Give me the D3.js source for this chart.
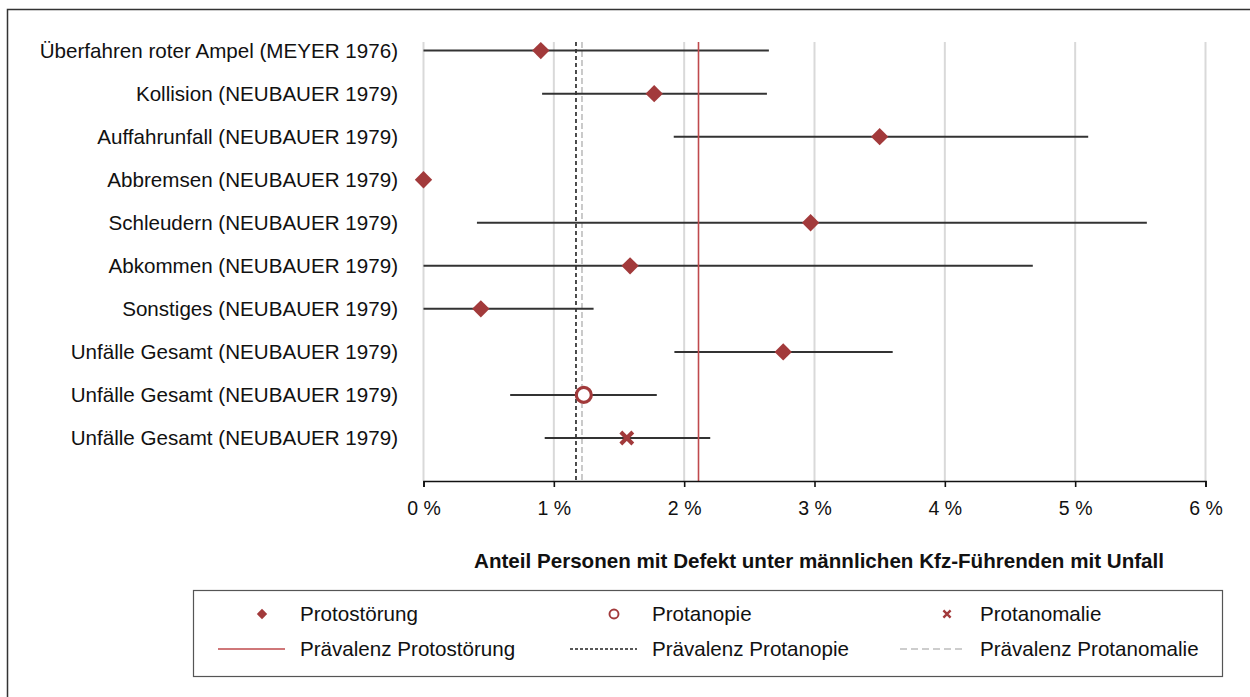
<!DOCTYPE html>
<html>
<head>
<meta charset="utf-8">
<script src="https://cdn.jsdelivr.net/npm/d3@7"></script>
<style>
  body { margin: 0; background: #fff; }
  svg { font-family: "Liberation Sans", Arial, sans-serif; }
</style>
</head>
<body>
<div id="chart"></div>
<script>
const categories = [
  "Überfahren roter Ampel (MEYER 1976)",
  "Kollision (NEUBAUER 1979)",
  "Auffahrunfall (NEUBAUER 1979)",
  "Abbremsen (NEUBAUER 1979)",
  "Schleudern (NEUBAUER 1979)",
  "Abkommen (NEUBAUER 1979)",
  "Sonstiges (NEUBAUER 1979)",
  "Unfälle Gesamt (NEUBAUER 1979)",
  "Unfälle Gesamt (NEUBAUER 1979)",
  "Unfälle Gesamt (NEUBAUER 1979)"
];
// point estimate, lower and upper bound in percent
const values = [0.90, 1.77, 3.50, 0.00, 2.97, 1.585, 0.44, 2.76, 1.23, 1.56];
const lower  = [0.00, 0.91, 1.92, null, 0.41, 0.00, 0.00, 1.925, 0.665, 0.93];
const upper  = [2.65, 2.635, 5.10, null, 5.55, 4.675, 1.305, 3.60, 1.79, 2.20];
const markerType = ["diamond", "diamond", "diamond", "diamond", "diamond", "diamond", "diamond", "diamond", "circle", "cross"];
const prevalence = { proto: 2.11, protanopie: 1.17, protanomalie: 1.216 };
const xTicks = [0, 1, 2, 3, 4, 5, 6];

const width = 1250, height = 697;
const markColor = "#a23a3b";
const fs = 20.6;

const svg = d3.select("#chart").append("svg")
    .attr("width", width)
    .attr("height", height);

// outer frame
svg.append("rect")
    .attr("x", 7.5).attr("y", 9.5)
    .attr("width", 1260).attr("height", 700)
    .attr("fill", "none")
    .attr("stroke", "#333")
    .attr("stroke-width", 1.5);

const x = d3.scaleLinear().domain([0, 6]).range([423.5, 1205.5]);
const y = d3.scaleLinear().domain([0, 10.2]).range([481, 42]);
const rowY = i => y(categories.length - i);

// gridlines
svg.append("g")
  .selectAll("line")
  .data(xTicks)
  .join("line")
    .attr("x1", d => x(d)).attr("x2", d => x(d))
    .attr("y1", y(10.2)).attr("y2", y(0))
    .attr("stroke", "#d9d9d9")
    .attr("stroke-width", 2);

// prevalence lines
svg.append("line")
    .attr("x1", x(prevalence.protanopie)).attr("x2", x(prevalence.protanopie))
    .attr("y1", y(10.2)).attr("y2", y(0))
    .attr("stroke", "#222").attr("stroke-width", 1.6)
    .attr("stroke-dasharray", "4,3");
svg.append("line")
    .attr("x1", x(prevalence.protanomalie)).attr("x2", x(prevalence.protanomalie))
    .attr("y1", y(10.2)).attr("y2", y(0))
    .attr("stroke", "#bdbdbd").attr("stroke-width", 1.6)
    .attr("stroke-dasharray", "6,3");

// error bars
svg.append("g")
  .selectAll("line")
  .data(d3.range(categories.length).filter(i => lower[i] !== null))
  .join("line")
    .attr("x1", i => x(lower[i])).attr("x2", i => x(upper[i]))
    .attr("y1", i => rowY(i)).attr("y2", i => rowY(i))
    .attr("stroke", "#333")
    .attr("stroke-width", 2);

svg.append("line")
    .attr("x1", x(prevalence.proto)).attr("x2", x(prevalence.proto))
    .attr("y1", y(10.2)).attr("y2", y(0))
    .attr("stroke", "#bf4a4d").attr("stroke-width", 1.6);

// x axis
const xAxis = svg.append("g")
    .attr("transform", `translate(0,${y(0)})`)
    .call(d3.axisBottom(x).tickValues(xTicks).tickSize(6).tickPadding(14)
      .tickFormat(d => d + " %"));
xAxis.select(".domain").attr("stroke", "#111").attr("stroke-width", 1.6);
xAxis.selectAll(".tick line").attr("stroke", "#111").attr("stroke-width", 1.6);
xAxis.selectAll(".tick text")
    .attr("font-size", 19.5)
    .attr("font-family", "Liberation Sans, Arial, sans-serif")
    .attr("fill", "#111");

svg.append("text")
    .attr("x", 819).attr("y", 568)
    .attr("text-anchor", "middle")
    .attr("font-size", fs)
    .attr("font-weight", "bold")
    .attr("fill", "#111")
    .text("Anteil Personen mit Defekt unter männlichen Kfz-Führenden mit Unfall");

// category labels
svg.append("g")
  .selectAll("text")
  .data(categories)
  .join("text")
    .attr("x", 398)
    .attr("y", (d, i) => rowY(i))
    .attr("dy", "0.35em")
    .attr("text-anchor", "end")
    .attr("font-size", fs)
    .attr("fill", "#111")
    .text(d => d);

function drawMarker(g, type, cx, cy, scale = 1) {
  if (type === "diamond") {
    g.append("path")
      .attr("d", d3.symbol(d3.symbolSquare, 150 * scale * scale)())
      .attr("transform", `translate(${cx},${cy}) rotate(45)`)
      .attr("fill", markColor);
  } else if (type === "circle") {
    g.append("circle")
      .attr("cx", cx).attr("cy", cy).attr("r", 7.5 * scale)
      .attr("fill", "#fff")
      .attr("stroke", markColor)
      .attr("stroke-width", 3.2 * scale);
  } else {
    const s = 6 * scale;
    g.append("path")
      .attr("d", `M${cx - s},${cy - s}L${cx + s},${cy + s}M${cx - s},${cy + s}L${cx + s},${cy - s}`)
      .attr("stroke", markColor)
      .attr("stroke-width", 4 * scale)
      .attr("fill", "none");
  }
}

const marks = svg.append("g");
values.forEach((v, i) => drawMarker(marks, markerType[i], x(v), rowY(i)));

// legend
const legend = svg.append("g");
legend.append("rect")
    .attr("x", 193.5).attr("y", 590.5)
    .attr("width", 1029).attr("height", 86)
    .attr("fill", "#fff")
    .attr("stroke", "#555")
    .attr("stroke-width", 1.2);

const legendMarkers = [
  { type: "diamond", label: "Protostörung", x: 262, tx: 300 },
  { type: "circle", label: "Protanopie", x: 614, tx: 652 },
  { type: "cross", label: "Protanomalie", x: 947, tx: 980 }
];
const legendLines = [
  { label: "Prävalenz Protostörung", x1: 218, x2: 285, tx: 300, stroke: "#bf4a4d", dash: null },
  { label: "Prävalenz Protanopie", x1: 570, x2: 637, tx: 652, stroke: "#222", dash: "3,2" },
  { label: "Prävalenz Protanomalie", x1: 900, x2: 966, tx: 980, stroke: "#bdbdbd", dash: "7,4" }
];

legendMarkers.forEach(d => {
  drawMarker(legend, d.type, d.x, 614, 0.6);
  legend.append("text")
    .attr("x", d.tx).attr("y", 614).attr("dy", "0.35em")
    .attr("font-size", fs).attr("fill", "#111")
    .text(d.label);
});
legendLines.forEach(d => {
  legend.append("line")
    .attr("x1", d.x1).attr("x2", d.x2)
    .attr("y1", 649).attr("y2", 649)
    .attr("stroke", d.stroke).attr("stroke-width", 1.6)
    .attr("stroke-dasharray", d.dash);
  legend.append("text")
    .attr("x", d.tx).attr("y", 649).attr("dy", "0.35em")
    .attr("font-size", fs).attr("fill", "#111")
    .text(d.label);
});
</script>
</body>
</html>
